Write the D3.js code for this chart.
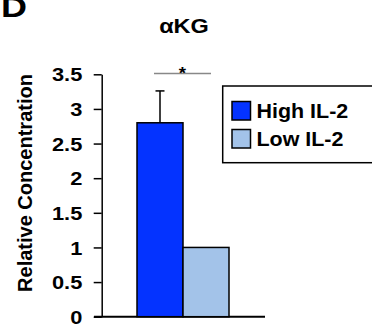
<!DOCTYPE html>
<html>
<head>
<meta charset="utf-8">
<script src="https://cdn.jsdelivr.net/npm/d3@7"></script>
<style>
  body { margin: 0; background: #fff; }
  svg { display: block; font-family: "Liberation Sans", Arial, sans-serif; font-weight: bold; }
</style>
</head>
<body>
<svg id="chart" width="372" height="324"></svg>
<script>
// data
const groups = ["High IL-2", "Low IL-2"];
const values = [2.8, 1.0];
const errors = [0.46, 0];
const colors = ["#0433ff", "#a3c3e9"];
const yTicks = [0, 0.5, 1, 1.5, 2, 2.5, 3, 3.5];

const svg = d3.select("#chart");

const y = d3.scaleLinear().domain([0, 3.5]).range([316.7, 74.3]);
const x = d3.scaleBand().domain(groups).range([137, 229]).padding(0);

// the original's lettering is a bit wider than Arial, so stretch it sideways
function label(parent, px, py, str, size, sx, anchor) {
  return parent.append("text")
      .attr("transform", "translate(" + px + "," + py + ") scale(" + sx + ",1)")
      .attr("text-anchor", anchor || "start")
      .style("font-size", size + "px")
      .text(str);
}

// panel letter + title
label(svg, 1, 17, "D", 30, 1.2);
label(svg, 184, 32.5, "αKG", 21, 1.12, "middle");

// y axis
const tickSx = 1.18;
const yAxis = svg.append("g")
    .attr("transform", "translate(101.7,0)")
    .call(d3.axisLeft(y).tickValues(yTicks).tickFormat(d3.format("~g"))
      .tickSize(8).tickSizeOuter(0));
yAxis.select(".domain").attr("stroke", "#000").attr("stroke-width", 1.5);
yAxis.selectAll(".tick line").attr("stroke-width", 1.5);
yAxis.selectAll(".tick text")
    .attr("fill", "#000")
    .attr("x", -19.4 / tickSx)
    .attr("dy", "0.36em")
    .attr("transform", "scale(" + tickSx + ",1)")
    .style("font-size", "18.5px")
    .style("font-family", "'Liberation Sans', Arial, sans-serif")
    .style("font-weight", "bold");

// x axis baseline
svg.append("line")
    .attr("x1", 94).attr("x2", 265)
    .attr("y1", y(0)).attr("y2", y(0))
    .attr("stroke", "#000").attr("stroke-width", 2);

// y label
svg.append("text")
    .attr("transform", "translate(31.5,183) rotate(-90)")
    .attr("text-anchor", "middle")
    .style("font-size", "20px")
    .text("Relative Concentration");

// error bars (behind bars)
groups.forEach((g, i) => {
  if (!errors[i]) return;
  const cx = x(g) + x.bandwidth() / 2;
  svg.append("line").attr("x1", cx).attr("x2", cx)
      .attr("y1", y(values[i])).attr("y2", y(values[i] + errors[i]))
      .attr("stroke", "#000").attr("stroke-width", 1.5);
  svg.append("line").attr("x1", cx - 4.5).attr("x2", cx + 4.5)
      .attr("y1", y(values[i] + errors[i])).attr("y2", y(values[i] + errors[i]))
      .attr("stroke", "#000").attr("stroke-width", 1.5);
});

// bars
svg.selectAll("rect.bar")
  .data(groups)
  .join("rect")
    .attr("class", "bar")
    .attr("x", d => x(d))
    .attr("y", (d, i) => y(values[i]))
    .attr("width", x.bandwidth())
    .attr("height", (d, i) => y(0) - y(values[i]))
    .attr("fill", (d, i) => colors[i])
    .attr("stroke", "#000").attr("stroke-width", 1.5);

// significance marker
svg.append("line")
    .attr("x1", 154).attr("x2", 211).attr("y1", 73.5).attr("y2", 73.5)
    .attr("stroke", "#888").attr("stroke-width", 1.5);
label(svg, 182.5, 78.5, "*", 17, 1.1, "middle");

// legend
const legend = svg.append("g");
legend.append("rect")
    .attr("x", 222.7).attr("y", 86).attr("width", 170).attr("height", 76.7)
    .attr("fill", "none").attr("stroke", "#000").attr("stroke-width", 1.5);
const items = legend.selectAll("g.item")
  .data(groups)
  .join("g")
    .attr("class", "item")
    .attr("transform", (d, i) => "translate(232," + (101.5 + i * 28) + ")");
items.append("rect")
    .attr("width", 18.5).attr("height", 18.5)
    .attr("fill", (d, i) => colors[i])
    .attr("stroke", "#000").attr("stroke-width", 1.5);
items.each(function(d) { label(d3.select(this), 24.5, 16, d, 19.5, 1.1); });
</script>
</body>
</html>
